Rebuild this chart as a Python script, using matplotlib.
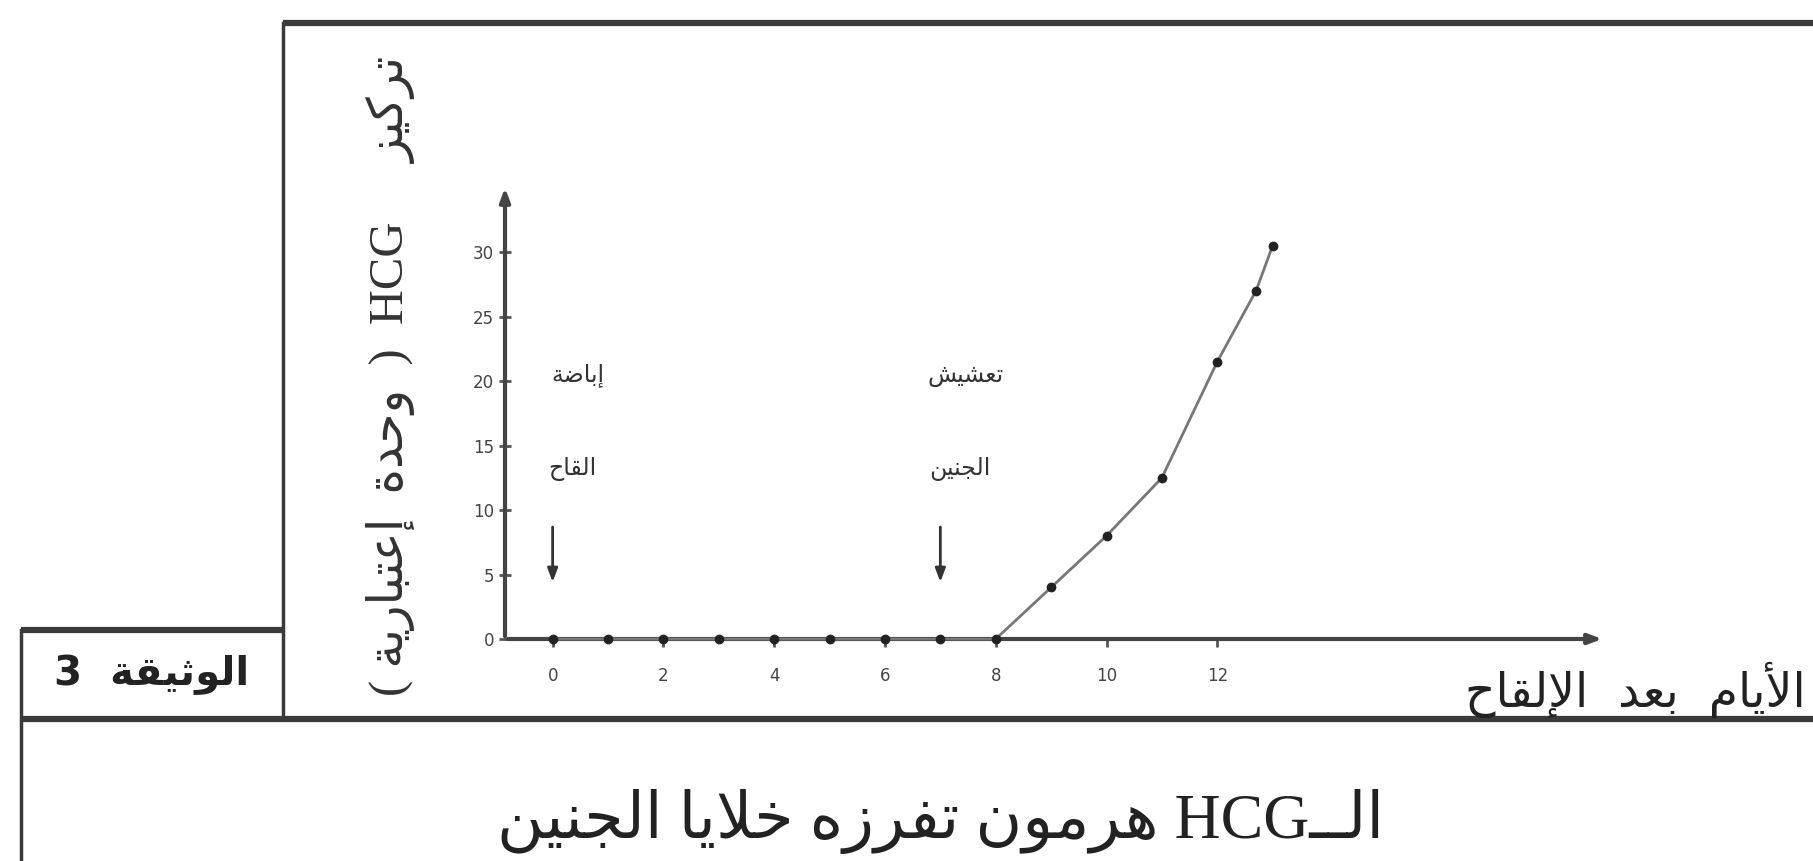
import re
import numpy as np
import matplotlib
matplotlib.use('Agg')
import matplotlib.pyplot as plt

# HCG concentration (arbitrary units) against days after fertilisation
days = [0, 1, 2, 3, 4, 5, 6, 7, 8, 9, 10, 11, 12, 12.7, 13]
hcg = [0, 0, 0, 0, 0, 0, 0, 0, 0, 4, 8, 12.5, 21.5, 27, 30.5]
x_ticks = [0, 2, 4, 6, 8, 10, 12]
y_ticks = [0, 5, 10, 15, 20, 25, 30]
events = [(0, 'إباضة', 'القاح'), (7, 'تعشيش', 'الجنين')]

y_label = 'تركيز     HCG  (  وحدة  إعتبارية )'
x_label = 'الأيام  بعد  الإلقاح'
doc_label = 'الوثيقة  3'
caption = 'الــHCG هرمون تفرزه خلايا الجنين'

# matplotlib does no Arabic shaping, so map letters to presentation forms
AR_FORMS = {
    'ء': (0xFE80, 1), 'آ': (0xFE81, 2), 'أ': (0xFE83, 2), 'ؤ': (0xFE85, 2),
    'إ': (0xFE87, 2), 'ئ': (0xFE89, 4), 'ا': (0xFE8D, 2), 'ب': (0xFE8F, 4),
    'ة': (0xFE93, 2), 'ت': (0xFE95, 4), 'ث': (0xFE99, 4), 'ج': (0xFE9D, 4),
    'ح': (0xFEA1, 4), 'خ': (0xFEA5, 4), 'د': (0xFEA9, 2), 'ذ': (0xFEAB, 2),
    'ر': (0xFEAD, 2), 'ز': (0xFEAF, 2), 'س': (0xFEB1, 4), 'ش': (0xFEB5, 4),
    'ص': (0xFEB9, 4), 'ض': (0xFEBD, 4), 'ط': (0xFEC1, 4), 'ظ': (0xFEC5, 4),
    'ع': (0xFEC9, 4), 'غ': (0xFECD, 4), 'ف': (0xFED1, 4), 'ق': (0xFED5, 4),
    'ك': (0xFED9, 4), 'ل': (0xFEDD, 4), 'م': (0xFEE1, 4), 'ن': (0xFEE5, 4),
    'ه': (0xFEE9, 4), 'و': (0xFEED, 2), 'ى': (0xFEEF, 2), 'ي': (0xFEF1, 4),
}
LAM_ALEF = {'آ': 0xFEF5, 'أ': 0xFEF7, 'إ': 0xFEF9, 'ا': 0xFEFB}
TATWEEL = 'ـ'


def ar(text):
    toks = []
    i = 0
    while i < len(text):
        c = text[i]
        if c == 'ل' and i + 1 < len(text) and text[i + 1] in LAM_ALEF:
            toks.append((LAM_ALEF[text[i + 1]], 2))
            i += 2
            continue
        if c == TATWEEL:
            toks.append('T')
        elif c in AR_FORMS:
            toks.append(AR_FORMS[c])
        else:
            toks.append(c)
        i += 1

    def fwd(t):
        return t == 'T' or (isinstance(t, tuple) and t[1] == 4)

    def back(t):
        return t == 'T' or (isinstance(t, tuple) and t[1] >= 2)

    out = []
    for k, t in enumerate(toks):
        if t == 'T':
            out.append(TATWEEL)
            continue
        if not isinstance(t, tuple):
            out.append(t)
            continue
        base, n = t
        prev = k > 0 and fwd(toks[k - 1]) and back(t)
        nxt = k + 1 < len(toks) and fwd(t) and back(toks[k + 1])
        if n == 1:
            out.append(chr(base))
        elif n == 2:
            out.append(chr(base + (1 if prev else 0)))
        else:
            off = {(False, False): 0, (True, False): 1,
                   (False, True): 2, (True, True): 3}[(prev, nxt)]
            out.append(chr(base + off))
    vis = ''.join(out)[::-1]
    vis = re.sub(r'[A-Za-z0-9]+', lambda m: m.group(0)[::-1], vis)
    return vis.translate(str.maketrans('()', ')('))


plt.rcParams['font.family'] = ['Liberation Serif', 'DejaVu Sans']
W, H = 1813, 861
fig = plt.figure(figsize=(W / 100, H / 100), dpi=100)

# frame lines of the document page, in pixel coordinates
bg = fig.add_axes([0, 0, 1, 1])
bg.set_xlim(0, W)
bg.set_ylim(H, 0)
bg.axis('off')
frame = dict(color='#3a3a3a', lw=4.5, solid_capstyle='butt')
bg.plot([283, W], [23, 23], **frame)
bg.plot([283, 283], [23, 719], color='#3a3a3a', lw=2.5)
bg.plot([21, 283], [630, 630], **frame)
bg.plot([21, 21], [630, H], color='#3a3a3a', lw=2.5)
bg.plot([21, W], [719, 719], **frame)

bg.text(152, 675, ar(doc_label), ha='center', va='center', fontsize=29,
        fontweight='bold', family=['DejaVu Sans'], color='#222222')
bg.text(1806, 690, ar(x_label), ha='right', va='center', fontsize=34,
        family=['DejaVu Sans'], color='#222222')
bg.text(941, 822, ar(caption), ha='center', va='center', fontsize=46,
        color='#222222')
bg.text(390, 376, ar(y_label), ha='center', va='center', rotation=90,
        fontsize=35, color='#333333')

# chart area
x0, x1 = -0.86, 19.0
y0, y1 = 0, 35.2
ax = fig.add_axes([505 / W, (H - 639) / H, (1605 - 505) / W, (639 - 185) / H])
ax.set_xlim(x0, x1)
ax.set_ylim(y0, y1)
for s in ax.spines.values():
    s.set_visible(False)
ax.patch.set_alpha(0)

axis_style = dict(arrowstyle='-|>,head_length=0.8,head_width=0.3',
                  color='#444444', lw=3)
ax.annotate('', xy=(x1, 0), xytext=(x0, 0), arrowprops=axis_style,
            annotation_clip=False)
ax.annotate('', xy=(x0, y1), xytext=(x0, 0), arrowprops=axis_style,
            annotation_clip=False)

ax.plot(days, hcg, color='#777777', lw=2, clip_on=False, zorder=3)
ax.plot(days, hcg, 'o', color='#222222', ms=6, clip_on=False, zorder=4)

ax.set_xticks(x_ticks)
ax.set_yticks(y_ticks)
ax.tick_params(axis='x', length=6, width=2, color='#555555', pad=14,
               labelsize=12, labelcolor='#444444')
ax.tick_params(axis='y', length=0, pad=8, labelsize=12, labelcolor='#444444')
ax.set_xticklabels([str(t) for t in x_ticks], family='DejaVu Sans')
ax.set_yticklabels([str(t) for t in y_ticks], family='DejaVu Sans')
ax.plot(np.full(len(y_ticks), x0), y_ticks, marker='_', ms=8, mew=2,
        color='#555555', ls='none', clip_on=False)

for day, top, bottom in events:
    ax.text(day + 0.45, 20.5, ar(top), ha='center', va='center', fontsize=17,
            family=['DejaVu Sans'], color='#333333')
    ax.text(day + 0.35, 13.2, ar(bottom), ha='center', va='center',
            fontsize=17, family=['DejaVu Sans'], color='#333333')
    ax.annotate('', xy=(day, 4.2), xytext=(day, 8.9),
                arrowprops=dict(arrowstyle='-|>,head_length=0.8,head_width=0.3',
                                color='#333333', lw=2))

fig.savefig('out.png', dpi=100, facecolor='white')
